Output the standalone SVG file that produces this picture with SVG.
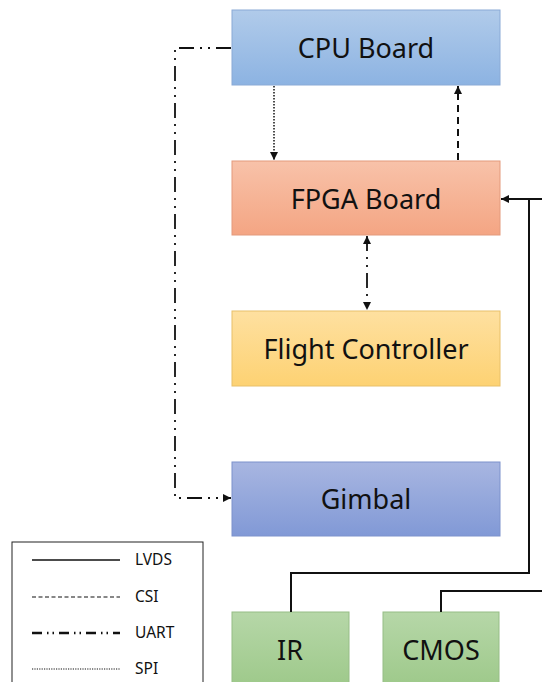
<svg xmlns="http://www.w3.org/2000/svg" width="542" height="682" viewBox="0 0 542 682">
  <defs>
    <linearGradient id="gBlue" x1="0" y1="0" x2="0" y2="1">
      <stop offset="0" stop-color="#b1cbea"/>
      <stop offset="1" stop-color="#8cb3e2"/>
    </linearGradient>
    <linearGradient id="gOrange" x1="0" y1="0" x2="0" y2="1">
      <stop offset="0" stop-color="#f8c2a9"/>
      <stop offset="1" stop-color="#f4a583"/>
    </linearGradient>
    <linearGradient id="gYellow" x1="0" y1="0" x2="0" y2="1">
      <stop offset="0" stop-color="#fee0a0"/>
      <stop offset="1" stop-color="#fdd273"/>
    </linearGradient>
    <linearGradient id="gPurple" x1="0" y1="0" x2="0" y2="1">
      <stop offset="0" stop-color="#a8b6e1"/>
      <stop offset="1" stop-color="#8199d6"/>
    </linearGradient>
    <linearGradient id="gGreen" x1="0" y1="0" x2="0" y2="1">
      <stop offset="0" stop-color="#b6d7a8"/>
      <stop offset="1" stop-color="#9cc888"/>
    </linearGradient>
    <marker id="arrow" viewBox="0 0 10 10" refX="10" refY="5" markerWidth="9" markerHeight="8" markerUnits="userSpaceOnUse" orient="auto-start-reverse">
      <path d="M0,0 L10,5 L0,10 z" fill="#111"/>
    </marker>
  </defs>
  <style>
    .box { stroke-width: 1; }
    .label { font-family: "Noto Sans", "Open Sans", "Liberation Sans", sans-serif; font-size: 27px; fill: #111; text-anchor: middle; dominant-baseline: central; }
    .legend-text { font-family: "Noto Sans", "Open Sans", "Liberation Sans", sans-serif; font-size: 15.5px; fill: #111; dominant-baseline: central; }
    .lvds { fill: none; stroke: #111; stroke-width: 2; }
    .csi { fill: none; stroke: #111; stroke-width: 2; stroke-dasharray: 7 5; }
    .uart { fill: none; stroke: #111; stroke-width: 1.8; stroke-dasharray: 15 6 2 6 2 6; }
    .spi { fill: none; stroke: #111; stroke-width: 1.5; stroke-dasharray: 1.5 1.5; }
  </style>

  <!-- Nodes -->
  <g id="cpu-board">
    <rect class="box" x="232" y="10" width="268" height="75" fill="url(#gBlue)" stroke="#8aaad6"/>
    <text class="label" x="366" y="47">CPU Board</text>
  </g>
  <g id="fpga-board">
    <rect class="box" x="232" y="161" width="268" height="74" fill="url(#gOrange)" stroke="#e39a7c"/>
    <text class="label" x="366" y="198">FPGA Board</text>
  </g>
  <g id="flight-controller">
    <rect class="box" x="232" y="311" width="268" height="75" fill="url(#gYellow)" stroke="#e8c06a"/>
    <text class="label" x="366" y="348">Flight Controller</text>
  </g>
  <g id="gimbal">
    <rect class="box" x="232" y="462" width="268" height="74" fill="url(#gPurple)" stroke="#7d92cc"/>
    <text class="label" x="366" y="498">Gimbal</text>
  </g>
  <g id="ir">
    <rect class="box" x="232" y="612" width="117" height="80" fill="url(#gGreen)" stroke="#96bd86"/>
    <text class="label" x="290" y="649">IR</text>
  </g>
  <g id="cmos">
    <rect class="box" x="383" y="612" width="116" height="80" fill="url(#gGreen)" stroke="#96bd86"/>
    <text class="label" x="441" y="649">CMOS</text>
  </g>

  <!-- Connectors -->
  <g id="connectors">
    <!-- SPI: CPU -> FPGA -->
    <line class="spi" x1="274" y1="86" x2="274" y2="160" marker-end="url(#arrow)"/>
    <!-- CSI: FPGA -> CPU -->
    <line class="csi" x1="458" y1="160" x2="458" y2="86" marker-end="url(#arrow)"/>
    <!-- UART: FPGA <-> Flight Controller -->
    <line class="uart" x1="367" y1="236" x2="367" y2="310" marker-start="url(#arrow)" marker-end="url(#arrow)"/>
    <!-- UART: CPU -> Gimbal -->
    <polyline class="uart" points="231,48 175,48 175,498 231,498" marker-end="url(#arrow)"/>
    <!-- LVDS: IR -> FPGA -->
    <polyline class="lvds" points="291,612 291,573 529,573 529,199"/>
    <!-- LVDS: CMOS -> FPGA -->
    <polyline class="lvds" points="441,612 441,591 542,591"/>
    <line class="lvds" x1="542" y1="199" x2="501" y2="199" marker-end="url(#arrow)"/>
  </g>

  <!-- Legend -->
  <g id="legend">
    <rect x="12" y="542" width="191" height="150" fill="#fff" stroke="#222" stroke-width="1"/>
    <line x1="32" y1="560" x2="120" y2="560" stroke="#111" stroke-width="1.5"/>
    <text class="legend-text" x="135" y="559">LVDS</text>
    <line x1="32" y1="597" x2="120" y2="597" stroke="#111" stroke-width="1.2" stroke-dasharray="4 2.5"/>
    <text class="legend-text" x="135" y="596">CSI</text>
    <line x1="32" y1="633" x2="120" y2="633" stroke="#111" stroke-width="2.4" stroke-dasharray="10 5 1.5 4 1.5 5"/>
    <text class="legend-text" x="135" y="632">UART</text>
    <line x1="32" y1="669" x2="120" y2="669" stroke="#111" stroke-width="1.2" stroke-dasharray="1.2 1.2"/>
    <text class="legend-text" x="135" y="668">SPI</text>
  </g>
</svg>
